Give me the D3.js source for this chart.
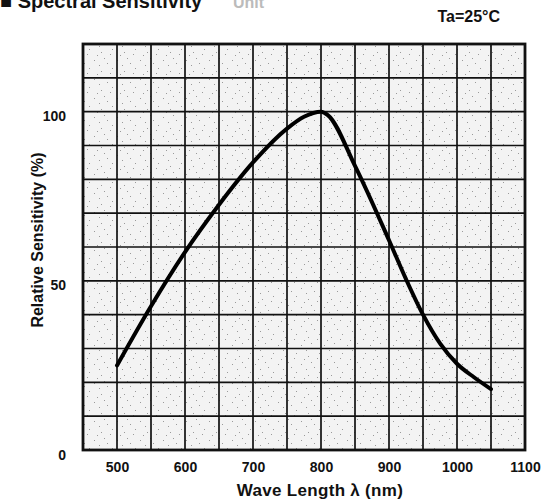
<!DOCTYPE html>
<html>
<head>
<meta charset="utf-8">
<script src="https://cdn.jsdelivr.net/npm/d3@7"></script>
<style>
  body { margin: 0; background: #fff; }
  text { font-family: "Liberation Sans", Arial, sans-serif; font-weight: bold; fill: #111; }
</style>
</head>
<body>
<script>
// spectral sensitivity curve
var wavelengths = [500, 550, 600, 650, 700, 750, 775, 800, 810, 850, 900, 925, 950, 975, 1000, 1025, 1050];
var sensitivity = [25, 42.5, 58.5, 72.5, 85, 95, 98.5, 100, 99, 84, 62, 50.5, 40, 31.5, 25.5, 21.5, 18];
var xTicks = [500, 600, 700, 800, 900, 1000, 1100];
var yTicks = [0, 50, 100];

var width = 547, height = 502;
// note: "top" is taken by window.top, so plot edges get a prefix
var plotL = 83, plotR = 525, plotT = 44, plotB = 450;

var svg = d3.select("body").append("svg").attr("width", width).attr("height", height);

var x = d3.scaleLinear().domain([450, 1100]).range([plotL, plotR]);
var y = d3.scaleLinear().domain([0, 120]).range([plotB, plotT]);

// speckled paper look of the scanned grid
var defs = svg.append("defs");
var pat = defs.append("pattern").attr("id", "speck").attr("patternUnits", "userSpaceOnUse")
  .attr("width", 23).attr("height", 19);
pat.append("rect").attr("width", 23).attr("height", 19).attr("fill", "#f3f3f3");
[[2, 3], [9, 14], [15, 6], [20, 11], [5, 17], [12, 1], [18, 16], [7, 8]].forEach(function(p) {
  pat.append("rect").attr("x", p[0]).attr("y", p[1]).attr("width", 1).attr("height", 1).attr("fill", "#9a9a9a");
});

svg.append("rect").attr("x", plotL).attr("y", plotT).attr("width", plotR - plotL).attr("height", plotB - plotT)
  .attr("fill", "url(#speck)");

// grid every 50 nm and every 10 %
svg.append("g").selectAll("line").data(d3.range(500, 1100, 50)).join("line")
  .attr("x1", d => x(d)).attr("x2", d => x(d)).attr("y1", plotT).attr("y2", plotB)
  .attr("stroke", "#111").attr("stroke-width", 1.7);
svg.append("g").selectAll("line").data(d3.range(10, 120, 10)).join("line")
  .attr("x1", plotL).attr("x2", plotR).attr("y1", d => y(d)).attr("y2", d => y(d))
  .attr("stroke", "#111").attr("stroke-width", 1.7);

svg.append("rect").attr("x", plotL).attr("y", plotT).attr("width", plotR - plotL).attr("height", plotB - plotT)
  .attr("fill", "none").attr("stroke", "#111").attr("stroke-width", 2.8);

// axes: only the labels, the grid does the rest
var xAxis = svg.append("g").attr("transform", "translate(0," + plotB + ")")
  .call(d3.axisBottom(x).tickValues(xTicks).tickFormat(d3.format("d")).tickSize(0).tickPadding(12));
xAxis.select(".domain").remove();
xAxis.selectAll("text").attr("font-size", 14).attr("fill", "#111")
  .style("font-family", "'Liberation Sans', Arial, sans-serif").style("font-weight", "bold");

var yAxis = svg.append("g").attr("transform", "translate(" + plotL + ",0)")
  .call(d3.axisLeft(y).tickValues(yTicks).tickSize(0).tickPadding(17));
yAxis.select(".domain").remove();
yAxis.selectAll("text").attr("font-size", 14).attr("dy", "0.65em").attr("fill", "#111")
  .style("font-family", "'Liberation Sans Narrow', 'Arial Narrow', sans-serif").style("font-weight", "bold");

var pts = wavelengths.map((w, i) => [w, sensitivity[i]]);
var line = d3.line().x(d => x(d[0])).y(d => y(d[1])).curve(d3.curveMonotoneX);
svg.append("path").attr("d", line(pts)).attr("fill", "none").attr("stroke", "#000")
  .attr("stroke-width", 4).attr("stroke-linecap", "round");

// titles
svg.append("text").attr("x", 320).attr("y", 496).attr("text-anchor", "middle").attr("font-size", 17)
  .style("letter-spacing", "0.3px").text("Wave Length λ (nm)");
svg.append("text").attr("transform", "translate(43,240) rotate(-90)").attr("text-anchor", "middle")
  .attr("font-size", 16).text("Relative Sensitivity (%)");
svg.append("text").attr("x", 500).attr("y", 22).attr("text-anchor", "end").attr("font-size", 16)
  .text("Ta=25°C");
// header cut off at the top of the scan
svg.append("text").attr("x", 0).attr("y", 8).attr("font-size", 20).text("■ Spectral Sensitivity");
svg.append("text").attr("x", 233).attr("y", 8).attr("font-size", 16).style("fill", "#bbb").text("Unit");
</script>
</body>
</html>
